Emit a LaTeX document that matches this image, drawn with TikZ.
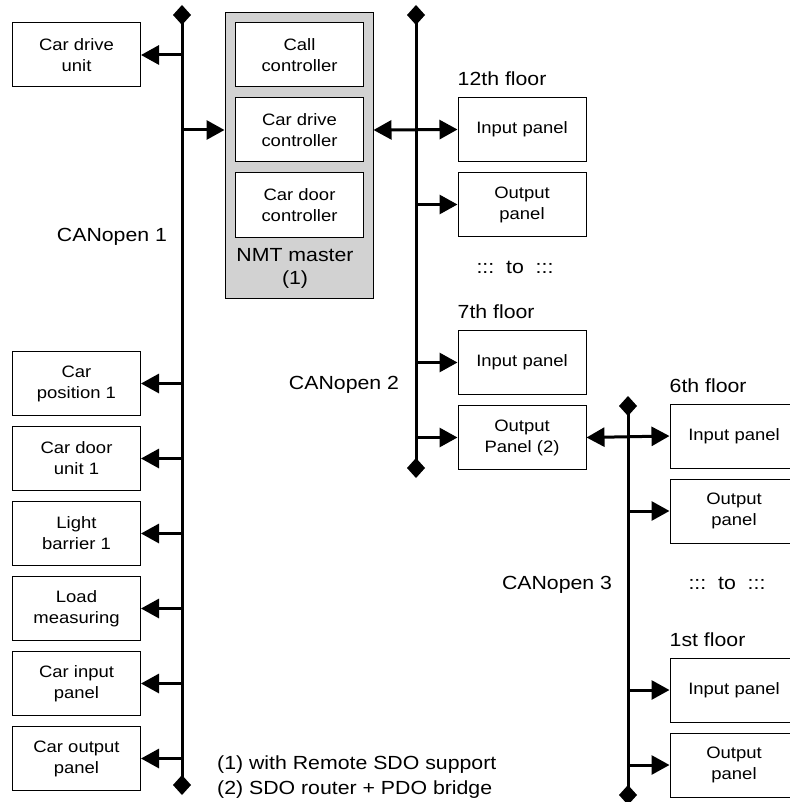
\documentclass[tikz,border=0pt]{standalone}
\usepackage{fontspec}
\setmainfont{Liberation Sans}[FakeStretch=1.12]
\usetikzlibrary{arrows.meta,positioning}

\begin{document}
\begin{tikzpicture}[
  x=1pt, y=-1pt,
  node distance=10pt,
  every node/.style={align=center},
  unit/.style={draw, line width=1pt, fill=white, minimum width=128pt, minimum height=64pt, inner sep=2pt, font=\fontsize{16.5}{21}\selectfont},
  lbl/.style={inner sep=0pt, font=\fontsize{19}{23}\selectfont},
  bus/.style={line width=3pt, {Diamond[length=20pt,width=18pt]}-{Diamond[length=20pt,width=18pt]}},
  link/.style={line width=3pt, -{Triangle[length=18pt,width=19pt]}},
  dlink/.style={line width=3pt, {Triangle[length=18pt,width=19pt]}-{Triangle[length=18pt,width=19pt]}}
]
\useasboundingbox (0,0) rectangle (789,802);

% NMT master block
\node[draw, line width=1pt, fill=gray!35, minimum width=148pt, minimum height=285pt] (nmt) at (299,155.5) {};
\node[unit] (callctl) at (299.5,55) {Call\\controller};
\node[unit, below=of callctl] (drivectl) {Car drive\\controller};
\node[unit, below=of drivectl] (doorctl) {Car door\\controller};
\node[lbl] (nmtlbl) at (295,268) {NMT master\\(1)};

% CANopen 1 devices
\node[unit] (driveunit) at (76.5,55) {Car drive\\unit};
\node[unit] (carpos) at (76.5,383.5) {Car\\position 1};
\node[unit, below=of carpos] (cardoor) {Car door\\unit 1};
\node[unit, below=of cardoor] (barrier) {Light\\barrier 1};
\node[unit, below=of barrier] (load) {Load\\measuring};
\node[unit, below=of load] (carin) {Car input\\panel};
\node[unit, below=of carin] (carout) {Car output\\panel};

% CANopen 2 devices
\node[unit] (in12) at (522,129.5) {Input panel};
\node[unit, below=of in12] (out12) {Output\\panel};
\node[unit] (in7) at (522,362.5) {Input panel};
\node[unit, below=of in7] (out7) {Output\\Panel (2)};

% CANopen 3 devices
\node[unit] (in6) at (734,436) {Input panel};
\node[unit, below=of in6] (out6) {Output\\panel};
\node[unit] (in1) at (734,690) {Input panel};
\node[unit, below=of in1] (out1) {Output\\panel};

% labels
\node[lbl, anchor=base west] (fl12) at ([yshift=11.5pt]in12.north west) {12th floor};
\node[lbl, anchor=base west] (fl7) at ([yshift=11.5pt]in7.north west) {7th floor};
\node[lbl, anchor=base west] (fl6) at ([yshift=11.5pt]in6.north west) {6th floor};
\node[lbl, anchor=base west] (fl1) at ([yshift=11.5pt]in1.north west) {1st floor};
\node[lbl] (gap2) at (515,267) {:::\ \ to\ \ :::};
\node[lbl] (gap3) at (727,583) {:::\ \ to\ \ :::};
\node[lbl, anchor=base] (can1) at (112,241) {CANopen 1};
\node[lbl, anchor=base] (can2) at (344,389) {CANopen 2};
\node[lbl, anchor=base] (can3) at (557,589) {CANopen 3};
\node[lbl, anchor=base west] (note1) at (217,769) {(1) with Remote SDO support};
\node[lbl, anchor=base west] (note2) at (217,794) {(2) SDO router + PDO bridge};

% buses
\coordinate (b1top) at (182,5);
\coordinate (b1bot) at (182,795);
\coordinate (b2top) at (416,5);
\coordinate (b2bot) at (416,478);
\coordinate (b3top) at (628,396);
\coordinate (b3bot) at (628,805);
\draw[bus] (b1top) -- (b1bot);
\draw[bus] (b2top) -- (b2bot);
\draw[bus] (b3top) -- (b3bot);

% connections
\foreach \n in {driveunit,carpos,cardoor,barrier,load,carin,carout}
  \draw[link] (\n.east -| b1top) -- (\n.east);
\draw[link] (drivectl.west -| b1top) -- (drivectl.west -| nmt.west);
\draw[dlink] (nmt.east |- drivectl) -- (in12.west);
\foreach \n in {out12,in7,out7}
  \draw[link] (\n.west -| b2top) -- (\n.west);
\draw[dlink] (out7.east) -- (in6.west);
\foreach \n in {out6,in1,out1}
  \draw[link] (\n.west -| b3top) -- (\n.west);
\end{tikzpicture}
\end{document}
